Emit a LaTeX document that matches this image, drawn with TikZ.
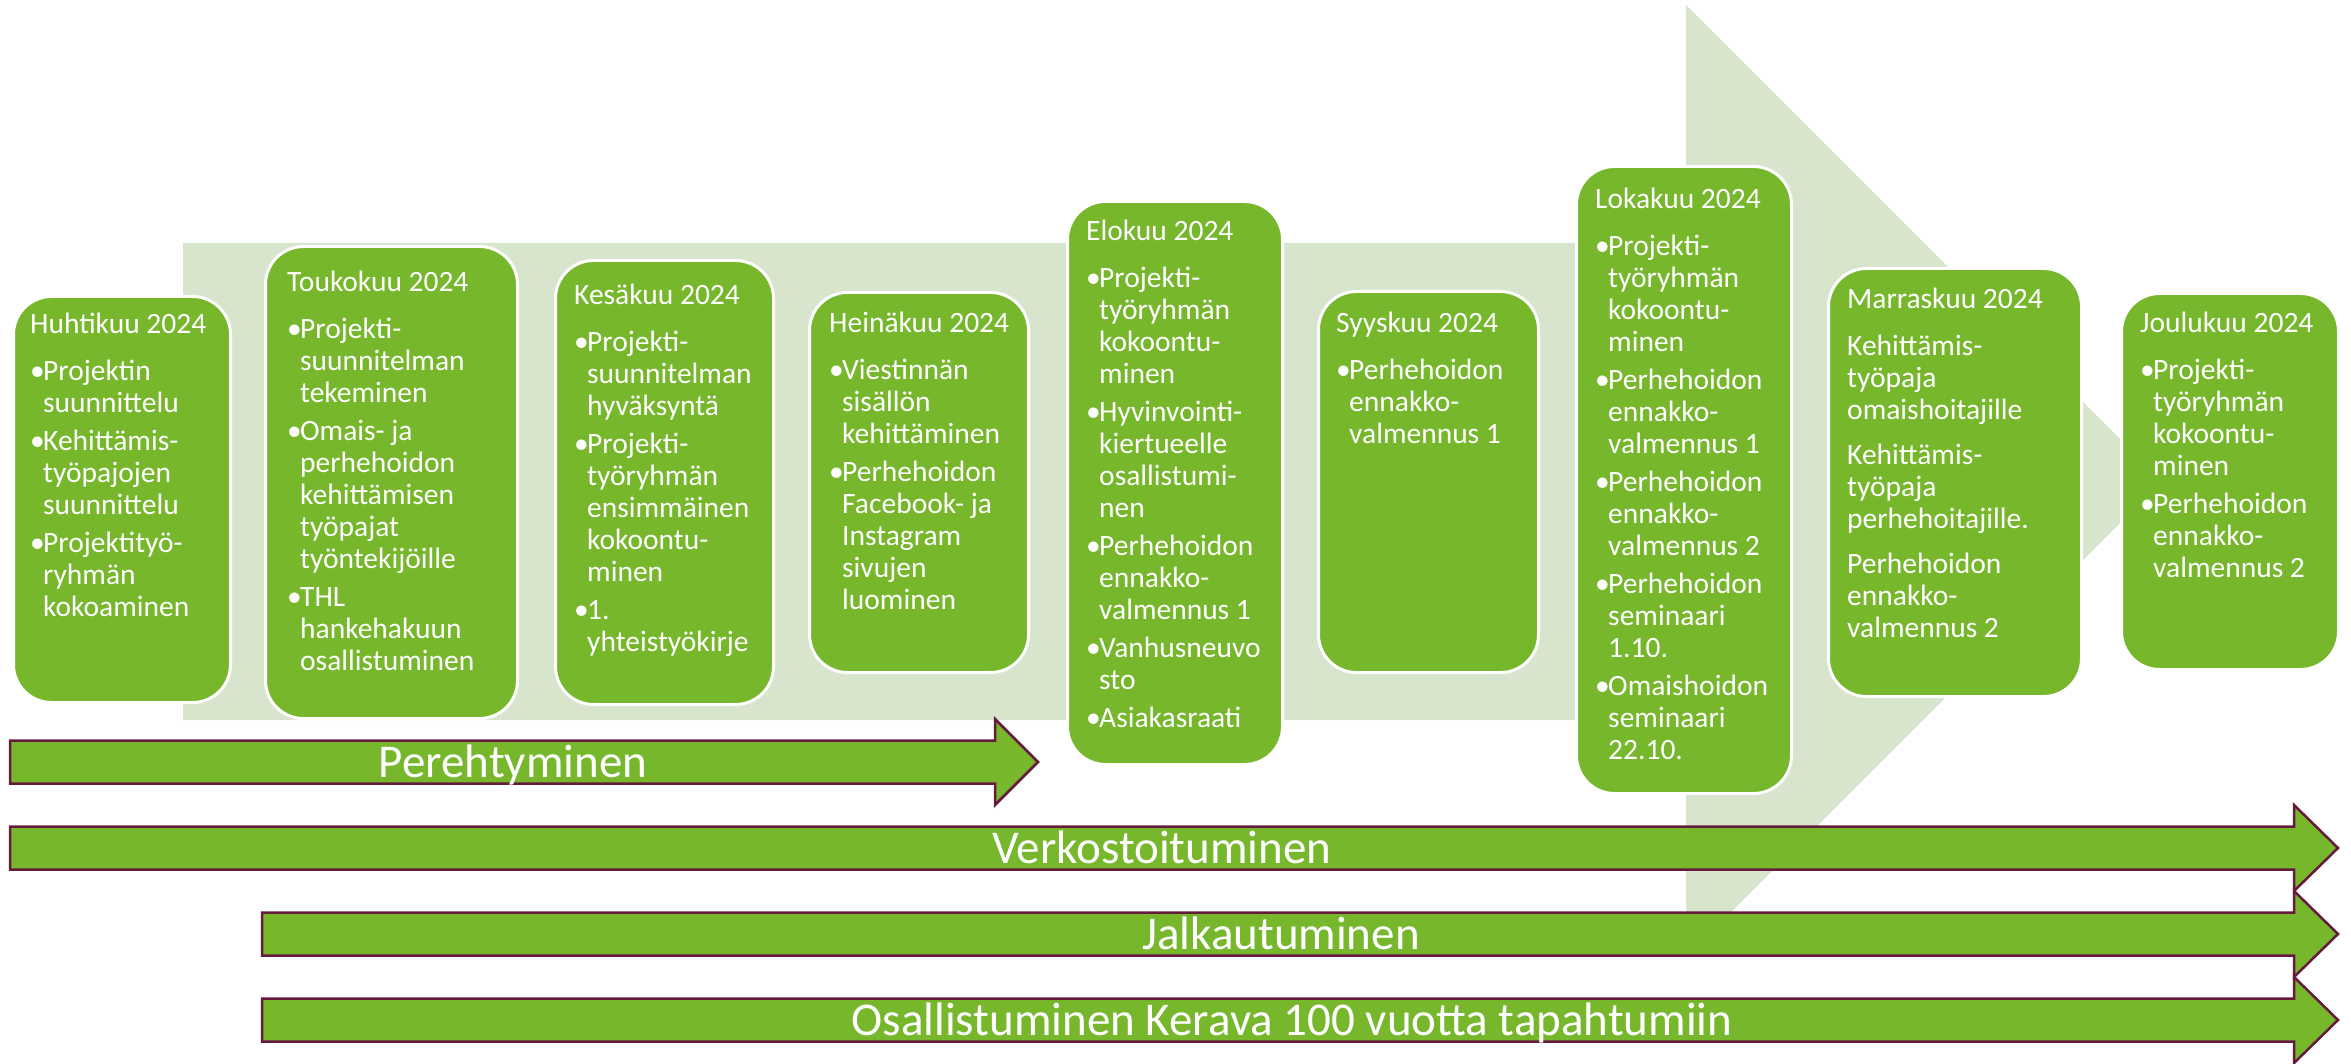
\documentclass[tikz,border=0pt]{standalone}
\usepackage{fontspec}
\setmainfont{Carlito}
\definecolor{boxgreen}{RGB}{118,183,44}
\definecolor{bggreen}{RGB}{215,229,205}
\definecolor{outl}{RGB}{100,27,62}
\newcommand\br{\newline}
\newcommand\mtitle[1]{#1\par\vspace{9pt}}
\newcommand\itm[1]{\par\vspace{6pt}\hangindent=13pt\hangafter=1\noindent\makebox[13pt][l]{•}#1\par}
\newcommand\boxtext[1]{\parbox[t]{300pt}{\fontsize{29.5}{32}\selectfont\setlength{\parindent}{0pt}\setlength{\parskip}{0pt}#1}}
\begin{document}
\begin{tikzpicture}[x=1pt,y=-1pt,
  mbox/.style={draw=white, line width=3pt, fill=boxgreen, rounded corners=38pt, inner sep=0pt, anchor=north west},
  btxt/.style={inner sep=0pt, anchor=base west, text=white},
  arr/.style={fill=boxgreen, draw=outl, line width=2.5pt, line join=miter},
  alab/.style={inner sep=0pt, anchor=base, text=white, font=\fontsize{47}{56}\selectfont}]
\useasboundingbox (0,0) rectangle (2351,1064);
% background arrow
\fill[bggreen] (183,243) -- (1686,243) -- (1686,5) -- (2162,481) -- (1686,957) -- (1686,720) -- (183,720) -- cycle;
% month boxes
\node[mbox, minimum width=217pt, minimum height=406pt] (b1) at (12,295) {};
\node[mbox, minimum width=252pt, minimum height=472pt] (b2) at (264,245) {};
\node[mbox, minimum width=218pt, minimum height=444pt] (b3) at (554,259) {};
\node[mbox, minimum width=219pt, minimum height=380pt] (b4) at (808,291) {};
\node[mbox, minimum width=215pt, minimum height=563pt] (b5) at (1066,200) {};
\node[mbox, minimum width=220pt, minimum height=381pt] (b6) at (1317,290) {};
\node[mbox, minimum width=215pt, minimum height=627pt] (b7) at (1575,165) {};
\node[mbox, minimum width=253pt, minimum height=428pt] (b8) at (1827,267) {};
\node[mbox, minimum width=217pt, minimum height=376pt] (b9) at (2120,292) {};
% texts
\node[btxt] (t1) at (30,334) {\boxtext{\mtitle{Huhtikuu 2024}%
\itm{Projektin\br suunnittelu}%
\itm{Kehittämis-\br työpajojen\br suunnittelu}%
\itm{Projektityö-\br ryhmän\br kokoaminen}}};
\node[btxt] (t2) at (287,292) {\boxtext{\mtitle{Toukokuu 2024}%
\itm{Projekti-\br suunnitelman\br tekeminen}%
\itm{Omais- ja\br perhehoidon\br kehittämisen\br työpajat\br työntekijöille}%
\itm{THL\br hankehakuun\br osallistuminen}}};
\node[btxt] (t3) at (574,305) {\boxtext{\mtitle{Kesäkuu 2024}%
\itm{Projekti-\br suunnitelman\br hyväksyntä}%
\itm{Projekti-\br työryhmän\br ensimmäinen\br kokoontu-\br minen}%
\itm{1.\br yhteistyökirje}}};
\node[btxt] (t4) at (829,333) {\boxtext{\mtitle{Heinäkuu 2024}%
\itm{Viestinnän\br sisällön\br kehittäminen}%
\itm{Perhehoidon\br Facebook- ja\br Instagram\br sivujen\br luominen}}};
\node[btxt] (t5) at (1086,241) {\boxtext{\mtitle{Elokuu 2024}%
\itm{Projekti-\br työryhmän\br kokoontu-\br minen}%
\itm{Hyvinvointi-\br kiertueelle\br osallistumi-\br nen}%
\itm{Perhehoidon\br ennakko-\br valmennus 1}%
\itm{Vanhusneuvo\br sto}%
\itm{Asiakasraati}}};
\node[btxt] (t6) at (1336,333) {\boxtext{\mtitle{Syyskuu 2024}%
\itm{Perhehoidon\br ennakko-\br valmennus 1}}};
\node[btxt] (t7) at (1595,209) {\boxtext{\mtitle{Lokakuu 2024}%
\itm{Projekti-\br työryhmän\br kokoontu-\br minen}%
\itm{Perhehoidon\br ennakko-\br valmennus 1}%
\itm{Perhehoidon\br ennakko-\br valmennus 2}%
\itm{Perhehoidon\br seminaari\br 1.10.}%
\itm{Omaishoidon\br seminaari\br 22.10.}}};
\node[btxt] (t8) at (1847,309) {\boxtext{Marraskuu 2024\par\vspace{15pt}%
Kehittämis-\br työpaja\br omaishoitajille\par\vspace{13pt}%
Kehittämis-\br työpaja\br perhehoitajille.\par\vspace{13pt}%
Perhehoidon\br ennakko-\br valmennus 2\par}};
\node[btxt] (t9) at (2140,333) {\boxtext{\mtitle{Joulukuu 2024}%
\itm{Projekti-\br työryhmän\br kokoontu-\br minen}%
\itm{Perhehoidon\br ennakko-\br valmennus 2}}};
% phase arrows
\draw[arr] (10,740.5) -- (995,740.5) -- (995,719) -- (1038,762) -- (995,805) -- (995,783.5) -- (10,783.5) -- cycle;
\node[alab] (p1) at (513,777) {Perehtyminen};
\draw[arr] (10,826.5) -- (2294,826.5) -- (2294,805) -- (2338,848) -- (2294,891) -- (2294,869.5) -- (10,869.5) -- cycle;
\node[alab] (p2) at (1162,863) {Verkostoituminen};
\draw[arr] (262,912.5) -- (2294,912.5) -- (2294,891) -- (2338,934) -- (2294,977) -- (2294,955.5) -- (262,955.5) -- cycle;
\node[alab] (p3) at (1281,949) {Jalkautuminen};
\draw[arr] (262,998.5) -- (2294,998.5) -- (2294,977) -- (2338,1020) -- (2294,1063) -- (2294,1041.5) -- (262,1041.5) -- cycle;
\node[alab] (p4) at (1292,1035) {Osallistuminen Kerava 100 vuotta tapahtumiin};
\end{tikzpicture}
\end{document}
